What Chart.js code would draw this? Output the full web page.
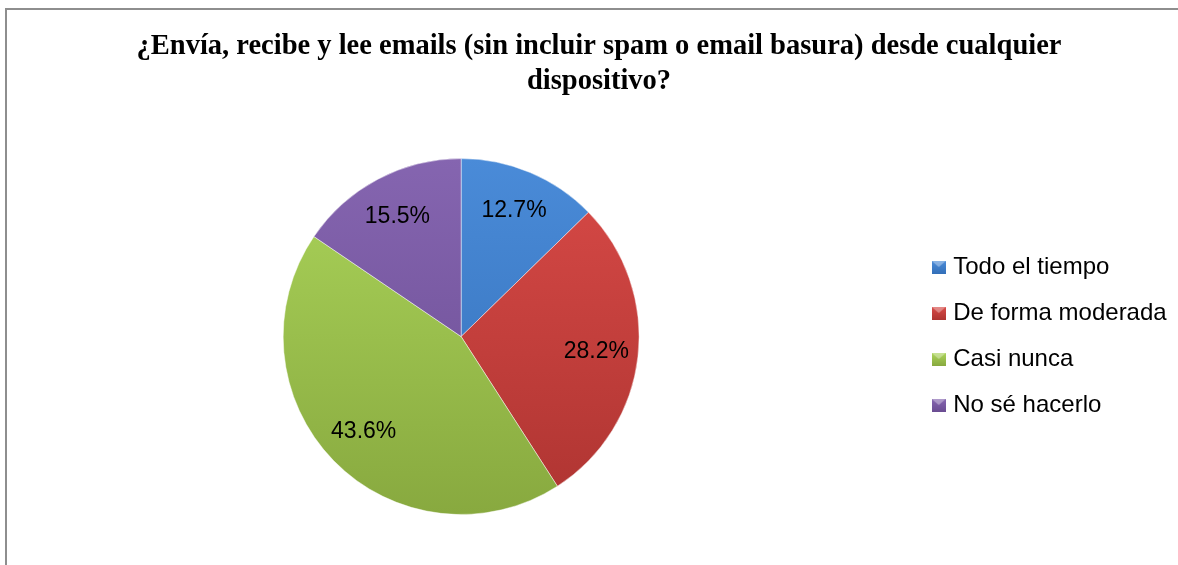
<!DOCTYPE html>
<html>
<head>
<meta charset="utf-8">
<script src="https://cdn.jsdelivr.net/npm/chart.js@4/dist/chart.umd.min.js"></script>
<style>
  html, body { margin: 0; padding: 0; background: #fff; overflow: hidden; }
  #frame { position: absolute; left: 5px; top: 8px; width: 2000px; height: 2000px;
           border-left: 2px solid #8e8e8e; border-top: 2px solid #8e8e8e; }
  #wrap { position: absolute; left: 0; top: 0; width: 1200px; height: 565px; }
</style>
</head>
<body>
<div id="frame"></div>
<div id="wrap"><canvas id="chart-area" width="1200" height="565"></canvas></div>
<script>
'use strict';

var titleLines = [
    '¿Envía, recibe y lee emails (sin incluir spam o email basura) desde cualquier',
    'dispositivo?'
];
var categories = ['Todo el tiempo', 'De forma moderada', 'Casi nunca', 'No sé hacerlo'];
var percentages = [12.7, 28.2, 43.6, 15.5];

// slice colours: light (top) / dark (bottom)
var topColors = ['#4a8bd8', '#d84a47', '#abd45a', '#8565b0'];
var bottomColors = ['#336fb8', '#ae3431', '#88a93f', '#6a4c92'];

var sliceFill = function(context) {
    var chart = context.chart;
    var area = chart.chartArea;
    var i = context.dataIndex;
    if (!area) {
        return topColors[i];
    }
    var g = chart.ctx.createLinearGradient(0, area.top, 0, area.bottom);
    g.addColorStop(0, topColors[i]);
    g.addColorStop(1, bottomColors[i]);
    return g;
};

var makeMarker = function(i) {
    var c = document.createElement('canvas');
    c.width = 14;
    c.height = 13;
    var x = c.getContext('2d');
    var g = x.createLinearGradient(0, 0, 0, 13);
    g.addColorStop(0, topColors[i]);
    g.addColorStop(1, bottomColors[i]);
    x.fillStyle = g;
    x.fillRect(0, 0, 14, 13);
    x.fillStyle = 'rgba(255,255,255,0.35)';
    x.beginPath();
    x.moveTo(0, 0); x.lineTo(14, 0); x.lineTo(7, 6); x.closePath();
    x.fill();
    return c;
};

// percentage labels inside each slice
var sliceLabels = {
    id: 'sliceLabels',
    afterDatasetsDraw: function(chart) {
        var ctx = chart.ctx;
        var meta = chart.getDatasetMeta(0);
        ctx.save();
        ctx.font = '23px "Liberation Sans", Arial, sans-serif';
        ctx.fillStyle = '#000';
        ctx.textAlign = 'center';
        ctx.textBaseline = 'middle';
        meta.data.forEach(function(arc, i) {
            var p = arc.getProps(['x', 'y', 'startAngle', 'endAngle', 'outerRadius'], true);
            var mid = (p.startAngle + p.endAngle) / 2;
            var r = p.outerRadius * 0.765;
            ctx.fillText(percentages[i].toFixed(1) + '%', p.x + Math.cos(mid) * r, p.y + Math.sin(mid) * r);
        });
        ctx.restore();
    }
};

var config = {
    type: 'pie',
    data: {
        labels: categories,
        datasets: [{
            data: percentages,
            backgroundColor: sliceFill,
            borderColor: 'rgba(255,255,255,0.45)',
            borderWidth: 1
        }]
    },
    options: {
        responsive: false,
        animation: false,
        layout: {
            padding: { left: 8, right: 10, top: 0, bottom: 50 }
        },
        plugins: {
            tooltip: { enabled: false },
            title: {
                display: true,
                text: titleLines,
                color: '#000',
                font: { family: '"Liberation Serif", "Times New Roman", serif', size: 28.5, weight: 'bold', lineHeight: 1.23 },
                padding: { top: 29, bottom: 59 }
            },
            legend: {
                position: 'right',
                fullSize: false,
                onClick: null,
                labels: {
                    usePointStyle: true,
                    pointStyleWidth: 5,
                    padding: 22,
                    color: '#000',
                    font: { family: '"Liberation Sans", Arial, sans-serif', size: 24 },
                    generateLabels: function(chart) {
                        return categories.map(function(name, i) {
                            return {
                                text: name + '\u00a0\u00a0',
                                fillStyle: topColors[i],
                                strokeStyle: topColors[i],
                                lineWidth: 0,
                                pointStyle: makeMarker(i),
                                hidden: false,
                                index: i
                            };
                        });
                    }
                }
            }
        }
    },
    plugins: [sliceLabels]
};

var ctx = document.getElementById('chart-area').getContext('2d');
window.myPie = new Chart(ctx, config);
</script>
</body>
</html>
